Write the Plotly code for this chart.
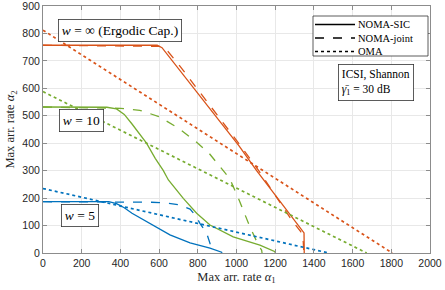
import plotly.graph_objects as go

RED = "#D95319"
GREEN = "#77AC30"
BLUE = "#0072BD"

# w = inf (ergodic capacity)
red_sic_x = [0, 590, 615, 700, 800, 900, 1013, 1104, 1207, 1280, 1349, 1350]
red_sic_y = [757, 757, 748, 672, 581, 490, 390, 300, 205, 140, 73, 0]
red_joint_x = [0, 600, 625, 645, 700, 800, 900, 1020, 1110, 1210, 1285, 1332, 1345, 1348]
red_joint_y = [757, 753, 745, 735, 688, 597, 503, 392, 305, 200, 120, 78, 40, 0]
red_oma_x = [0, 1805]
red_oma_y = [812, 0]

# w = 10
green_sic_x = [0, 330, 380, 420, 460, 500, 535, 580, 622, 648, 725, 794, 863, 983, 1121, 1199, 1200]
green_sic_y = [532, 531, 525, 505, 470, 432, 400, 345, 300, 266, 199, 145, 102, 59, 29, 5, 0]
green_joint_x = [0, 400, 500, 600, 700, 800, 860, 910, 966, 1009, 1066, 1113, 1130, 1132]
green_joint_y = [532, 527, 520, 497, 455, 400, 362, 318, 270, 201, 101, 29, 10, 0]
green_oma_x = [0, 1673]
green_oma_y = [588, 0]

# w = 5
blue_sic_x = [0, 340, 380, 420, 460, 520, 553, 600, 656, 760, 863, 923, 925]
blue_sic_y = [187, 187, 180, 165, 145, 120, 106, 87, 66, 37, 18, 3, 0]
blue_joint_x = [0, 480, 560, 640, 700, 760, 790, 811, 846, 863, 868]
blue_joint_y = [187, 187, 185, 182, 176, 160, 135, 108, 72, 35, 0]
blue_oma_x = [0, 1477]
blue_oma_y = [235, 0]

x_ticks = list(range(0, 2001, 200))
y_ticks = list(range(0, 901, 100))

legend_names = ["NOMA-SIC", "NOMA-joint", "OMA"]
legend_dashes = ["solid", "dash", "dot"]

SERIF = "Liberation Serif"
SANS = "Liberation Sans"
LW = 1.3
LW_DOT = 1.7

# plot area in pixels (for placing the hand-made legend in paper coords)
L, R, T, B = 43, 430, 6, 253
def px(xp):
    return (xp - L) / (R - L)
def py(yp):
    return (B - yp) / (B - T)

fig = go.Figure()

series = [
    (red_sic_x, red_sic_y, RED, "solid"),
    (red_joint_x, red_joint_y, RED, "dash"),
    (red_oma_x, red_oma_y, RED, "dot"),
    (green_sic_x, green_sic_y, GREEN, "solid"),
    (green_joint_x, green_joint_y, GREEN, "dash"),
    (green_oma_x, green_oma_y, GREEN, "dot"),
    (blue_sic_x, blue_sic_y, BLUE, "solid"),
    (blue_joint_x, blue_joint_y, BLUE, "dash"),
    (blue_oma_x, blue_oma_y, BLUE, "dot"),
]
for xs, ys, c, d in series:
    fig.add_trace(go.Scatter(x=xs, y=ys, mode="lines", showlegend=False,
                             line=dict(color=c, dash=d, width=LW_DOT if d == "dot" else LW),
                             hoverinfo="skip"))

# legend box (drawn by hand to match the compact spacing)
fig.add_shape(type="rect", xref="paper", yref="paper",
              x0=px(313), x1=px(428), y0=py(56), y1=py(16),
              fillcolor="white", line=dict(color="#333333", width=0.8), layer="above")
for i, (name, d) in enumerate(zip(legend_names, legend_dashes)):
    yy = 24.5 + 13.5 * i
    fig.add_shape(type="line", xref="paper", yref="paper",
                  x0=px(315), x1=px(355), y0=py(yy), y1=py(yy),
                  line=dict(color="black", dash=d, width=LW_DOT if d == "dot" else LW),
                  layer="above")
    fig.add_annotation(xref="paper", yref="paper", x=px(356), y=py(yy),
                       xanchor="left", yanchor="middle", text=name, showarrow=False,
                       font=dict(family=SERIF, size=10.5, color="black"))

box = dict(bgcolor="white", bordercolor="#333333", borderwidth=0.8,
           showarrow=False)

fig.add_annotation(x=398, y=809, text="<i>w</i> = ∞ (Ergodic Cap.)",
                   borderpad=3, font=dict(family=SERIF, size=13.5, color="black"), **box)
fig.add_annotation(x=199, y=481, text="<i>w</i> = 10", borderpad=3,
                   font=dict(family=SERIF, size=13.5, color="black"), **box)
fig.add_annotation(x=191, y=135, text="<i>w</i> = 5", borderpad=3,
                   font=dict(family=SERIF, size=13.5, color="black"), **box)
fig.add_annotation(x=1721, y=621, text="ICSI, Shannon<br><i>γ̄</i><sub>1</sub> = 30 dB",
                   align="left", borderpad=3,
                   font=dict(family=SERIF, size=11.5, color="black"), **box)

axis_common = dict(
    showline=True, linecolor="#8c8c8c", linewidth=1, mirror="ticks",
    ticks="inside", ticklen=4, tickcolor="#8c8c8c", tickwidth=1,
    showgrid=True, gridcolor="#e8e8e8", gridwidth=0.8, zeroline=False,
    ticklabeloverflow="allow",
    tickfont=dict(family=SANS, size=10.5, color="#262626"),
)

fig.update_layout(
    width=445, height=290,
    margin=dict(l=43, r=15, t=6, b=37, autoexpand=False),
    plot_bgcolor="white", paper_bgcolor="white",
    xaxis=dict(range=[0, 2000], tickvals=x_ticks, automargin=False,
               title=dict(text="Max arr. rate <i>α</i><sub>1</sub>", standoff=4,
                          font=dict(family=SERIF, size=12.5, color="#262626")),
               **axis_common),
    yaxis=dict(range=[0, 900], tickvals=y_ticks, automargin=False,
               title=dict(text="Max arr. rate <i>α</i><sub>2</sub>", standoff=4,
                          font=dict(family=SERIF, size=12.5, color="#262626")),
               **axis_common),
    showlegend=False,
)

fig.write_html("out.html", config={"displayModeBar": False},
               post_script="document.body.style.margin='0';document.body.style.overflow='hidden';")
